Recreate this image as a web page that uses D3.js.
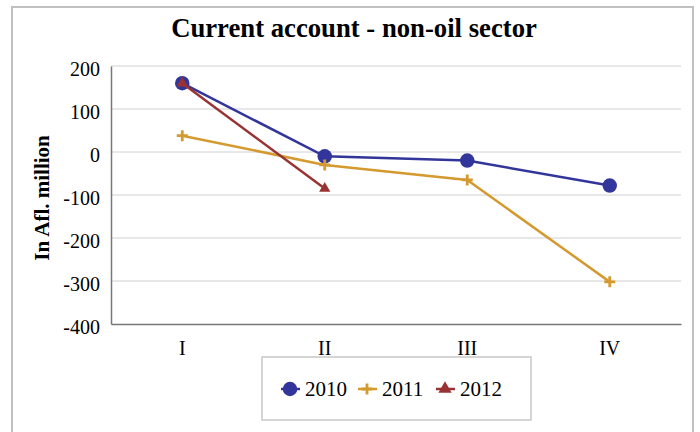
<!DOCTYPE html>
<html>
<head>
<meta charset="utf-8">
<script src="https://cdn.jsdelivr.net/npm/d3@7/dist/d3.min.js"></script>
<style>
  html, body { margin: 0; padding: 0; background: #fff; }
  svg { display: block; }
  svg text { font-family: "Liberation Serif", "Times New Roman", serif; }
</style>
</head>
<body>
<svg id="chart" width="700" height="432"></svg>
<script>
// Quarterly current account balance of the non-oil sector (Afl. million)
const quarters = ["I", "II", "III", "IV"];
const years = ["2010", "2011", "2012"];
const values2010 = [160, -10, -20, -78];
const values2011 = [38, -30, -65, -302];
const values2012 = [160, -85];
const yTicks = [200, 100, 0, -100, -200, -300, -400];
const seriesColors = ["#32359a", "#d49a30", "#993333"];

// thin plus sign marker
const thinPlus = {
  draw(ctx, size) {
    const r = Math.sqrt(size) / 2, t = 1.4;
    ctx.moveTo(-r, -t); ctx.lineTo(-t, -t); ctx.lineTo(-t, -r); ctx.lineTo(t, -r);
    ctx.lineTo(t, -t); ctx.lineTo(r, -t); ctx.lineTo(r, t); ctx.lineTo(t, t);
    ctx.lineTo(t, r); ctx.lineTo(-t, r); ctx.lineTo(-t, t); ctx.lineTo(-r, t);
    ctx.closePath();
  }
};
const seriesShapes = [d3.symbolCircle, thinPlus, d3.symbolTriangle];
const markerSizes = [165, 121, 55];

const series = [values2010, values2011, values2012].map((vals, i) => ({
  name: years[i], values: vals, color: seriesColors[i],
  shape: seriesShapes[i], size: markerSizes[i]
}));

const svg = d3.select("#chart");
const font = '"Liberation Serif", "Times New Roman", serif';

// outer frame
svg.append("rect")
  .attr("x", 12).attr("y", 7).attr("width", 681).attr("height", 440)
  .attr("fill", "#fff").attr("stroke", "#c0c0c0").attr("stroke-width", 2);

const plot = { left: 111, right: 681, top: 66, bottom: 324 };

const x = d3.scaleBand().domain(quarters).range([plot.left, plot.right]);
const y = d3.scaleLinear().domain([-400, 200]).range([plot.bottom, plot.top]);

// horizontal gridlines
svg.append("g")
  .selectAll("line")
  .data(yTicks.filter(t => t !== -400))
  .join("line")
  .attr("x1", plot.left).attr("x2", plot.right)
  .attr("y1", d => y(d)).attr("y2", d => y(d))
  .attr("stroke", "#d0d0d0").attr("stroke-width", 1);

// y axis
const yAxis = svg.append("g")
  .attr("transform", `translate(${plot.left},0)`)
  .call(d3.axisLeft(y).tickValues(yTicks).tickSize(0).tickPadding(11)
    .tickFormat(d => String(d)));
yAxis.attr("font-family", null).attr("font-size", null);
yAxis.select(".domain").attr("stroke", "#777").attr("stroke-width", 1.5);
yAxis.selectAll("text")
  .style("font-family", font).style("font-size", "20px").attr("fill", "#000")
  .attr("y", 3);

// x axis
const xAxis = svg.append("g")
  .attr("transform", `translate(0,${plot.bottom})`)
  .call(d3.axisBottom(x).tickSize(0));
xAxis.attr("font-family", null).attr("font-size", null);
xAxis.select(".domain").attr("stroke", "#777").attr("stroke-width", 1.5);
xAxis.selectAll("text")
  .style("font-family", font).style("font-size", "20px").attr("fill", "#000")
  .attr("dy", null).attr("y", 31);

// title
svg.append("text")
  .attr("x", 354).attr("y", 37)
  .attr("text-anchor", "middle")
  .style("font-family", font).style("font-weight", "bold").style("font-size", "26.7px")
  .text("Current account - non-oil sector");

// y-axis title
svg.append("text")
  .attr("transform", `translate(49,${(plot.top + plot.bottom) / 2 + 3}) rotate(-90)`)
  .attr("text-anchor", "middle")
  .style("font-family", font).style("font-weight", "bold").style("font-size", "21px")
  .text("In Afl. million");

// lines and markers
const line = d3.line()
  .x((d, i) => x(quarters[i]) + x.bandwidth() / 2)
  .y(d => y(d));

series.forEach(s => {
  const g = svg.append("g");
  g.append("path")
    .datum(s.values)
    .attr("d", line)
    .attr("fill", "none")
    .attr("stroke", s.color)
    .attr("stroke-width", 2.5);
  g.selectAll("path.mark")
    .data(s.values)
    .join("path")
    .attr("class", "mark")
    .attr("transform", (d, i) => `translate(${x(quarters[i]) + x.bandwidth() / 2},${y(d)})`)
    .attr("d", d3.symbol().type(s.shape).size(s.size))
    .attr("fill", s.color);
});

// legend
const legend = svg.append("g");
legend.append("rect")
  .attr("x", 262).attr("y", 357).attr("width", 269).attr("height", 63)
  .attr("fill", "#fff").attr("stroke", "#c8c8c8").attr("stroke-width", 1.5);

const legendX = [290, 367, 445];
series.forEach((s, i) => {
  const cx = legendX[i];
  const cy = 389;
  legend.append("line")
    .attr("x1", cx - 9).attr("x2", cx + 10)
    .attr("y1", cy).attr("y2", cy)
    .attr("stroke", s.color).attr("stroke-width", 2.5);
  legend.append("path")
    .attr("transform", `translate(${cx},${cy})`)
    .attr("d", d3.symbol().type(s.shape).size(s.size * (i === 2 ? 1.4 : 1)))
    .attr("fill", s.color);
  legend.append("text")
    .attr("x", cx + 15).attr("y", cy + 7)
    .style("font-family", font).style("font-size", "21px")
    .text(s.name);
});
</script>
</body>
</html>
